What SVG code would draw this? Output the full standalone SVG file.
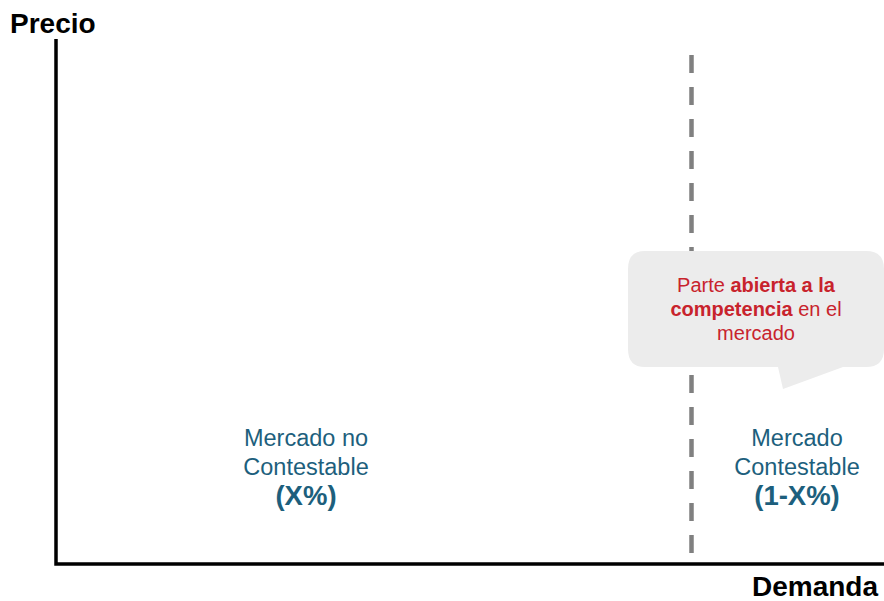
<svg xmlns="http://www.w3.org/2000/svg" width="884" height="601" viewBox="0 0 884 601">
<style>
.axis{stroke:#000;stroke-width:3.5;fill:none}
.dash{stroke:#808080;stroke-width:4.5;stroke-dasharray:18 14;fill:none}
.ax{font-family:"Liberation Sans",Arial,sans-serif;font-weight:bold;font-size:28px;fill:#000}
.lbl{font-family:"Liberation Sans",Arial,sans-serif;font-size:23.5px;fill:#1d5f7d;text-anchor:middle}
.lblb{font-weight:bold;font-size:27.5px}
.call{font-family:"Liberation Sans",Arial,sans-serif;font-size:20px;fill:#c8232c;text-anchor:middle}
</style>
<rect width="884" height="601" fill="#fff"/>
<g id="connectors">
<path class="axis" d="M56 39 V564 H884"/>
<path class="dash" d="M691.5 55 V553"/>
</g>
<g id="axis-y-label"><text class="ax" x="10" y="33">Precio</text></g>
<g id="axis-x-label"><text class="ax" x="878" y="596" text-anchor="end">Demanda</text></g>
<g id="callout">
<path d="M645 251 H866 Q884 251 884 269 V349 Q884 367 866 367 H843 L783 389 L778 367 H645 Q628 367 628 349 V269 Q628 251 645 251 Z" fill="#ececec"/>
<text class="call" x="756" y="292">Parte <tspan font-weight="bold">abierta a la</tspan></text>
<text class="call" x="756" y="316"><tspan font-weight="bold">competencia</tspan> en el</text>
<text class="call" x="756" y="340">mercado</text>
</g>
<g id="no-contestable">
<text class="lbl" x="306" y="446">Mercado no</text>
<text class="lbl" x="306" y="475">Contestable</text>
<text class="lbl lblb" x="306" y="505">(X%)</text>
</g>
<g id="contestable">
<text class="lbl" x="797" y="446">Mercado</text>
<text class="lbl" x="797" y="475">Contestable</text>
<text class="lbl lblb" x="797" y="505">(1-X%)</text>
</g>
</svg>
